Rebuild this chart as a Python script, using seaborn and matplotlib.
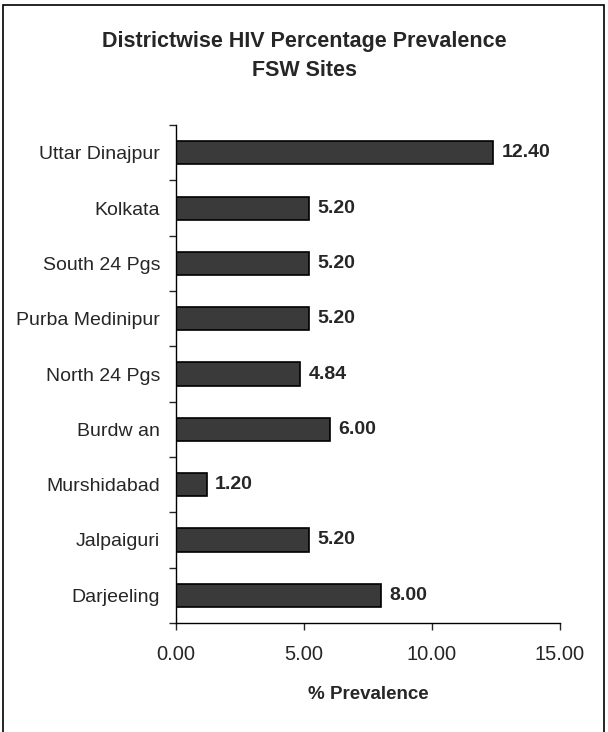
import matplotlib
matplotlib.use("Agg")
import matplotlib.pyplot as plt
import seaborn as sns
import pandas as pd
from matplotlib.patches import Rectangle

# Data
districts = ["Uttar Dinajpur", "Kolkata", "South 24 Pgs", "Purba Medinipur",
             "North 24 Pgs", "Burdw an", "Murshidabad", "Jalpaiguri", "Darjeeling"]
prevalence = [12.40, 5.20, 5.20, 5.20, 4.84, 6.00, 1.20, 5.20, 8.00]
xticks = [0, 5, 10, 15]

df = pd.DataFrame({"district": districts, "prevalence": prevalence})

sns.set_style("white")
plt.rcParams["font.family"] = ["Liberation Sans", "DejaVu Sans"]

fig = plt.figure(figsize=(6.08, 7.32), dpi=100)
ax = fig.add_axes([0.2895, 0.149, 0.6316, 0.680])

sns.barplot(data=df, x="prevalence", y="district", order=districts,
            color="#3a3a3a", edgecolor="black", linewidth=1.2,
            width=0.42, saturation=1, ax=ax)

ax.bar_label(ax.containers[0], fmt="%.2f", padding=6,
             fontsize=14, fontweight="bold")

ax.set_xlim(0, 15)
ax.set_ylim(len(districts) - 0.5, -0.5)
ax.set_xticks(xticks)
ax.set_xticklabels([f"{v:.2f}" for v in xticks], fontsize=14.5)
ax.set_yticks(range(len(districts)))
ax.set_yticklabels(districts, fontsize=14)
ax.set_yticks([i - 0.5 for i in range(len(districts) + 1)], minor=True)

ax.tick_params(axis="y", which="major", length=0, pad=11.5)
ax.tick_params(axis="y", which="minor", length=5, width=1, direction="out", left=True)
ax.tick_params(axis="x", which="major", length=5, width=1, direction="out",
               bottom=True, pad=11)

for side in ["top", "right"]:
    ax.spines[side].set_visible(False)
for side in ["left", "bottom"]:
    ax.spines[side].set_color("black")
    ax.spines[side].set_linewidth(1)

ax.set_ylabel("")
ax.set_xlabel("% Prevalence", fontsize=13.5, fontweight="bold", labelpad=16)

fig.text(0.5, 1 - 41 / 732, "Districtwise HIV Percentage Prevalence",
         ha="center", va="center", fontsize=15.5, fontweight="bold")
fig.text(0.5, 1 - 70 / 732, "FSW Sites",
         ha="center", va="center", fontsize=15.5, fontweight="bold")

# outer chart frame
fig.patches.append(Rectangle((3 / 608, -0.02), 601 / 608, 1 - 5 / 732 + 0.02,
                             transform=fig.transFigure, fill=False,
                             edgecolor="black", linewidth=1.2, clip_on=False))

fig.savefig("out.png", dpi=100)
